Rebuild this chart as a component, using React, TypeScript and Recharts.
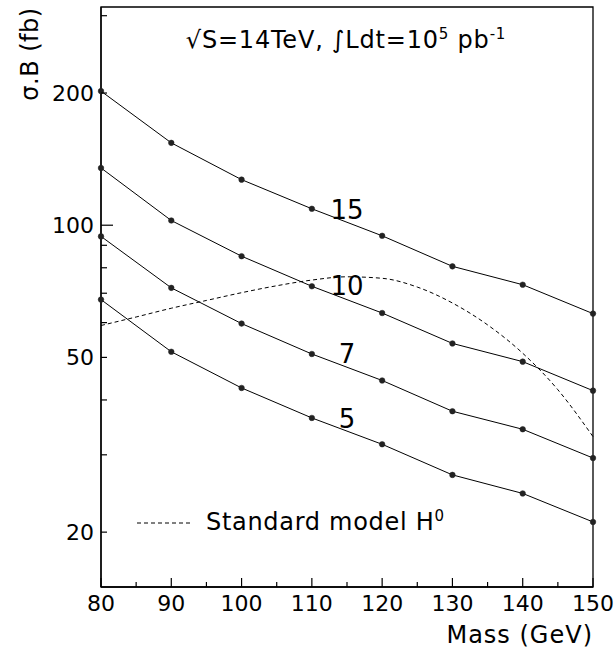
import { LineChart, Line, XAxis, YAxis, ReferenceArea, ReferenceDot, Label } from 'recharts'

// cross section x branching ratio (fb) vs Higgs mass (GeV), one curve per tan(beta)
const masses = [80, 90, 100, 110, 120, 130, 140, 150]
const tb15 = [202, 154, 127, 109, 94.6, 80.6, 73.2, 62.9]
const tb10 = [135, 102.5, 85, 72.6, 63.1, 53.8, 48.9, 42]
const tb7 = [94.3, 72, 59.7, 50.9, 44.3, 37.7, 34.3, 29.5]
const tb5 = [67.7, 51.5, 42.6, 36.4, 31.7, 27, 24.5, 21.1]

// Standard model H0 expectation
const smMasses = [80, 85, 90, 95, 100, 105, 110, 115, 120, 125, 130, 135, 140, 145, 150]
const smValues = [59.1, 61.8, 64.7, 67.4, 70.2, 72.8, 75, 76.3, 75.7, 72.3, 66.5, 59.3, 51.1, 42.2, 33]

const curveNames = ['15', '10', '7', '5']
const curveLabelY = [108.4, 72.8, 51, 36.3]
const curveLabelX = 115

const xTicks = [80, 85, 90, 95, 100, 105, 110, 115, 120, 125, 130, 135, 140, 145, 150]
const yTicks = [20, 30, 40, 50, 60, 70, 80, 90, 100, 200, 300]
const yLabelled = [20, 50, 100, 200]

const FONT = 'DejaVu Sans, sans-serif'

const toRows = (ys: number[]) => masses.map((m, i) => ({ m, v: ys[i] }))
const smRows = smMasses.map((m, i) => ({ m, v: smValues[i] }))

const XTick = (props: any) => {
  const { x, y, payload } = props
  const v = payload.value
  const major = v % 10 === 0
  return (
    <g>
      <line x1={x} y1={y} x2={x} y2={y - (major ? 9 : 5)} stroke="#000" strokeWidth={1.2} />
      {major && (
        <text x={x} y={y + 24} textAnchor="middle" fontSize={22} fontFamily={FONT} fill="#000">
          {v}
        </text>
      )}
    </g>
  )
}

const YTick = (props: any) => {
  const { x, y, payload } = props
  const v = payload.value
  const len = v === 100 ? 12 : 6
  return (
    <g>
      <line x1={x} y1={y} x2={x + len} y2={y} stroke="#000" strokeWidth={1.2} />
      {yLabelled.includes(v) && (
        <text x={x - 7} y={y} dy="0.36em" textAnchor="end" fontSize={22} fontFamily={FONT} fill="#000">
          {v}
        </text>
      )}
    </g>
  )
}

const CurveLabel = (text: string) => (p: any) => {
  const vb = p.viewBox
  const cx = vb.x + (vb.width || 0) / 2
  const cy = vb.y + (vb.height || 0) / 2
  return (
    <text x={cx} y={cy} dy="0.36em" textAnchor="middle" fontSize={26} fontFamily={FONT} fill="#000">
      {text}
    </text>
  )
}

const dotStyle = { r: 2.8, fill: '#222', stroke: '#222', strokeWidth: 0.5 }

export default function App() {
  const series = [tb15, tb10, tb7, tb5]
  return (
    <div style={{ width: 616, height: 651, background: '#fff' }}>
      <style>{'body{margin:0}'}</style>
      <LineChart width={616} height={651} margin={{ top: 7, right: 23, bottom: 0, left: 0 }}>
        <XAxis
          dataKey="m"
          type="number"
          domain={[80, 150]}
          ticks={xTicks}
          interval={0}
          tickSize={0}
          tickMargin={0}
          tickLine={false}
          tick={<XTick />}
          height={64}
          axisLine={{ stroke: '#000', strokeWidth: 1.3 }}
          allowDuplicatedCategory={false}
        >
          <Label
            content={(p: any) => (
              <text
                x={p.viewBox.x + p.viewBox.width}
                y={643}
                textAnchor="end"
                fontSize={24}
                letterSpacing={1}
                fontFamily={FONT}
                fill="#000"
              >
                Mass (GeV)
              </text>
            )}
          />
        </XAxis>
        <YAxis
          type="number"
          scale="log"
          domain={[15, 314]}
          allowDataOverflow
          ticks={yTicks}
          interval={0}
          tickSize={0}
          tickMargin={0}
          tickLine={false}
          tick={<YTick />}
          width={101}
          axisLine={{ stroke: '#000', strokeWidth: 1.3 }}
        >
          <Label
            content={() => (
              <text
                x={38}
                y={54}
                transform="rotate(-90 38 54)"
                textAnchor="middle"
                fontSize={24}
                letterSpacing={0.5}
                fontFamily={FONT}
                fill="#000"
              >
                σ.B (fb)
              </text>
            )}
          />
        </YAxis>
        <ReferenceArea x1={80} x2={150} y1={15} y2={314} fill="none" stroke="#000" strokeWidth={1.3} />
        {series.map((s, i) => (
          <Line
            key={curveNames[i]}
            data={toRows(s)}
            dataKey="v"
            type="linear"
            stroke="#000"
            strokeWidth={1}
            dot={dotStyle}
            activeDot={false}
            isAnimationActive={false}
          />
        ))}
        <Line
          data={smRows}
          dataKey="v"
          type="monotone"
          stroke="#000"
          strokeWidth={1}
          strokeDasharray="4 3"
          dot={false}
          activeDot={false}
          isAnimationActive={false}
        />
        {curveNames.map((n, i) => (
          <ReferenceDot
            key={'lbl' + n}
            x={curveLabelX}
            y={curveLabelY[i]}
            r={0}
            fill="none"
            stroke="none"
            label={CurveLabel(n)}
          />
        ))}
        <text x={346} y={48} textAnchor="middle" fontSize={24} letterSpacing={0.8} fontFamily={FONT} fill="#000">
          √S=14TeV, ∫Ldt=10
          <tspan dy={-9} fontSize={15}>5</tspan>
          <tspan dy={9}> pb</tspan>
          <tspan dy={-9} fontSize={15}>-1</tspan>
        </text>
        <line x1={137} y1={523} x2={190} y2={523} stroke="#000" strokeWidth={1} strokeDasharray="4 3" />
        <text x={206} y={530} fontSize={24} letterSpacing={0.7} fontFamily={FONT} fill="#000">
          Standard model H
          <tspan dy={-9} fontSize={15}>0</tspan>
        </text>
      </LineChart>
    </div>
  )
}
